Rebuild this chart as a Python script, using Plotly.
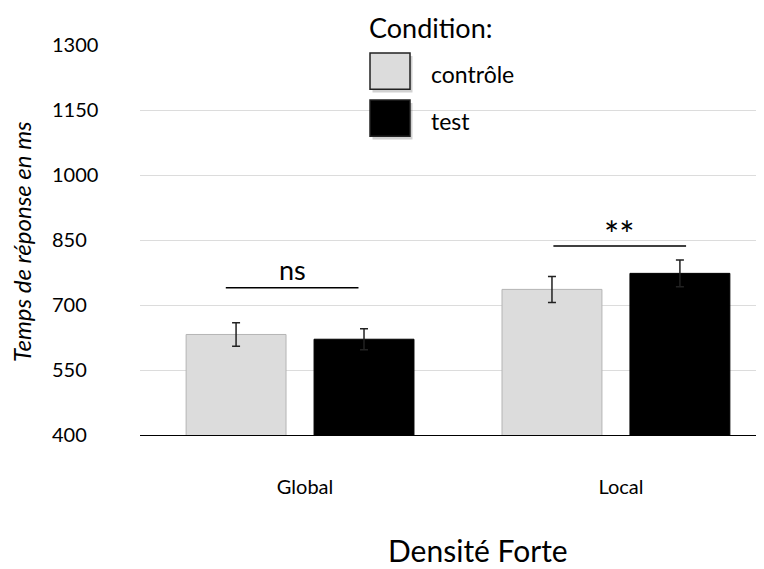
import plotly.graph_objs as go

# data (response times in ms)
categories = ["Global", "Local"]
conditions = ["contrôle", "test"]
controle_ms = [632, 736]
test_ms = [621, 773]
controle_err = [27, 30]
test_err = [24, 31]

# significance marks above each pair
sig_labels = ["ns", "**"]
sig_heights = [740, 836]

y_ticks = [400, 550, 700, 850, 1000, 1150, 1300]

font = "Lato, 'Open Sans', sans-serif"
colors = ["#dcdcdc", "#000000"]
sig_sizes = [27, 36]
sig_shift = [0, -12]
sig_offset = [-0.025, 0.012]

# we build one bar trace per condition
controle = go.Bar(x=categories, y=controle_ms, name=conditions[0],
                  marker={"color": colors[0], "line": {"color": "#b4b4b4", "width": 1}},
                  error_y={"type": "data", "array": controle_err, "color": "#222222",
                           "thickness": 1.5, "width": 4})
test = go.Bar(x=categories, y=test_ms, name=conditions[1],
              marker={"color": colors[1], "line": {"color": "#000000", "width": 1}},
              error_y={"type": "data", "array": test_err, "color": "#222222",
                       "thickness": 1.5, "width": 4})

# the page body has an 8px margin, so the figure is a bit smaller than the window
layout = go.Layout(
    width=756, height=561,
    margin={"l": 32, "r": 0, "t": 37, "b": 134},
    paper_bgcolor="white", plot_bgcolor="white",
    font={"family": font, "color": "#000000"},
    showlegend=False,
    barmode="group", bargap=0.19, bargroupgap=0.219,
    xaxis={"domain": [100 / 724, 1], "range": [-0.5066, 1.4687],
           "showline": True, "linecolor": "#000000", "linewidth": 1,
           "ticks": "", "tickfont": {"size": 20, "color": "#000000"},
           "ticklabelstandoff": 34, "ticklabelshift": 5},
    yaxis={"anchor": "free", "position": 0, "range": [400, 1300],
           "tickvals": y_ticks, "ticks": "",
           "ticklabelposition": "inside", "ticklabeloverflow": "allow",
           "ticklabelstandoff": 8, "tickfont": {"size": 20, "color": "#000000"},
           "showgrid": True, "gridcolor": "#dcdcdc", "gridwidth": 1,
           "zeroline": False, "showline": False},
)

fig = go.Figure(data=[controle, test], layout=layout)

# axis titles
fig.add_annotation(text="<i>Temps de réponse en ms</i>", textangle=-90,
                   xref="x domain", yref="y domain", x=-0.189, y=0.495,
                   xanchor="center", yanchor="middle",
                   showarrow=False, font={"size": 24})
fig.add_annotation(text="Densité Forte", xref="x domain", yref="y domain",
                   x=0.5417, y=-0.296, xanchor="center", yanchor="middle",
                   showarrow=False, font={"size": 30})

# hand-made legend with big swatches
fig.add_annotation(text="Condition:", xref="x domain", yref="y domain",
                   x=0.467, y=1.046, xanchor="center", yanchor="middle",
                   showarrow=False, font={"size": 27})
swatch_top = [0.9795, 0.859]
for i, name in enumerate(conditions):
    y1 = swatch_top[i]
    y0 = y1 - 0.093
    fig.add_shape(type="rect", xref="x domain", yref="y domain",
                  x0=0.3686 + 0.004, x1=0.4327 + 0.004, y0=y0 - 0.008, y1=y1 - 0.008,
                  fillcolor="rgba(0,0,0,0.18)", line={"width": 0})
    fig.add_shape(type="rect", xref="x domain", yref="y domain",
                  x0=0.3686, x1=0.4327, y0=y0, y1=y1,
                  fillcolor=colors[i], line={"color": "#222222", "width": 1.5})
    fig.add_annotation(text=name, xref="x domain", yref="y domain",
                       x=0.463, y=(y0 + y1) / 2 - 0.008, xanchor="left", yanchor="middle",
                       showarrow=False, font={"size": 23})

# significance bars
for i, lab in enumerate(sig_labels):
    xc = i + sig_offset[i]
    fig.add_shape(type="line", xref="x", yref="y",
                  x0=xc - 0.21, x1=xc + 0.21, y0=sig_heights[i], y1=sig_heights[i],
                  line={"color": "#000000", "width": 1.5})
    fig.add_annotation(text=lab, xref="x", yref="y", x=xc, y=sig_heights[i],
                       xanchor="center", yanchor="bottom", yshift=sig_shift[i],
                       showarrow=False, font={"size": sig_sizes[i]})

fig.write_html("out.html")
